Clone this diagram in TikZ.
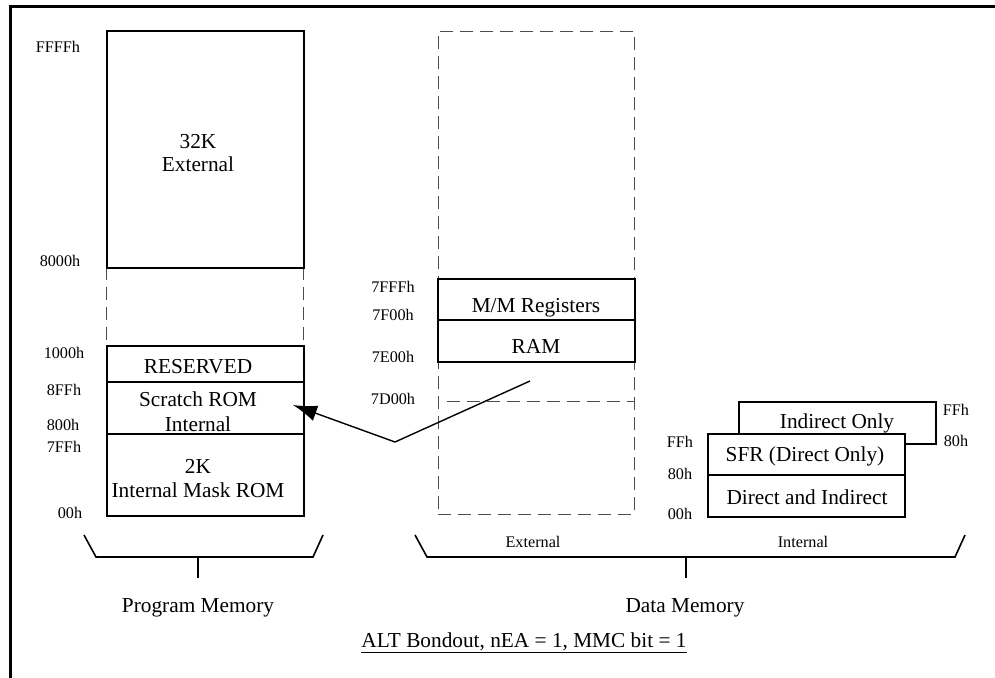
\documentclass[tikz,border=0pt]{standalone}
\usepackage{fontspec}
\setmainfont{Liberation Serif}
\usetikzlibrary{arrows.meta}
\begin{document}
\begin{tikzpicture}[x=1pt,y=-1pt,
 box/.style={draw, line width=1.6pt, inner sep=0pt, anchor=north west},
 wbox/.style={box, fill=white},
 dbox/.style={draw=black!70, line width=0.9pt, dash pattern=on 13pt off 7pt, inner sep=0pt, anchor=north west},
 dsh/.style={draw=black!70, line width=0.9pt, dash pattern=on 13pt off 7pt},
 big/.style={inner sep=0pt, text height=1.04em, text depth=0pt, font=\fontsize{21.3}{24}\selectfont},
 small/.style={inner sep=0pt, text height=1.04em, text depth=0pt, font=\fontsize{16.2}{18}\selectfont},
 brk/.style={line width=1.6pt},
 frame/.style={line width=3pt}]
\useasboundingbox (0,0) rectangle (995,677);
% outer frame
\coordinate (fb) at (10,690);
\coordinate (ftl) at (10,7);
\coordinate (fr) at (1000,7);
\draw[frame] (fb) -- (ftl) -- (fr);

% ---------------- Program memory ----------------
\draw[dsh] (106,267) -- (106,345);
\draw[dsh] (303,267) -- (303,345);
\node[box, minimum width=197pt, minimum height=237pt] (pext) at (106,30) {};
\node[box, minimum width=197pt, minimum height=36pt] (pres) at (106,345) {};
\node[box, minimum width=197pt, minimum height=52pt] (pscr) at (106,381) {};
\node[box, minimum width=197pt, minimum height=82pt] (pmask) at (106,433) {};

\node[big] (t32k) at (198,143) {32K};
\node[big] (text) at (198,166) {External};
\node[big] (tres) at (198,368) {RESERVED};
\node[big] (tscr) at (198,401) {Scratch ROM};
\node[big] (tint) at (198,426) {Internal};
\node[big] (t2k) at (198,468) {2K};
\node[big] (tmask) at (198,492) {Internal Mask ROM};

\node[small] (aFFFF) at (58,47) {FFFFh};
\node[small] (a8000) at (60,261) {8000h};
\node[small] (a1000) at (64,353) {1000h};
\node[small] (a8FF) at (64,390) {8FFh};
\node[small] (a800) at (63,425) {800h};
\node[small] (a7FF) at (64,447) {7FFh};
\node[small] (a00) at (70,513) {00h};

% program bracket
\coordinate (pb1) at (84,535);
\coordinate (pb2) at (96,557);
\coordinate (pb3) at (313,557);
\coordinate (pb4) at (323,535);
\coordinate (pbs) at (198,557);
\coordinate (pbe) at (198,578);
\draw[brk] (pb1) -- (pb2) -- (pb3) -- (pb4);
\draw[brk] (pbs) -- (pbe);
\node[big] (progmem) at (198,607) {Program Memory};

% ---------------- Data memory ----------------
\node[dbox, minimum width=196pt, minimum height=483pt] (dext) at (438,31) {};
\node[box, minimum width=197pt, minimum height=41pt] (dmm) at (437,278) {};
\node[box, minimum width=197pt, minimum height=42pt] (dram) at (437,319) {};
\coordinate (d7d0) at (447,401);
\coordinate (d7d1) at (634,401);
\draw[dsh] (d7d0) -- (d7d1);

\node[big] (tmm) at (536,307) {M/M Registers};
\node[big] (tram) at (536,348) {RAM};

\node[small] (a7FFF) at (393,287) {7FFFh};
\node[small] (a7F00) at (393,315) {7F00h};
\node[small] (a7E00) at (393,357) {7E00h};
\node[small] (a7D00) at (393,399) {7D00h};

% internal data memory
\node[box, minimum width=197pt, minimum height=42pt] (dind) at (738,401) {};
\node[big] (tind) at (837,423) {Indirect Only};
\node[wbox, minimum width=197pt, minimum height=41pt] (dsfr) at (707,433) {};
\node[wbox, minimum width=197pt, minimum height=42pt] (ddi) at (707,474) {};
\node[big] (tsfr) at (805,456) {SFR (Direct Only)};
\node[big] (tdi) at (807,499) {Direct and Indirect};

\node[small] (iFFl) at (680,442) {FFh};
\node[small] (i80l) at (680,474) {80h};
\node[small] (i00l) at (680,514) {00h};
\node[small] (iFFr) at (956,410) {FFh};
\node[small] (i80r) at (956,441) {80h};

% data bracket
\coordinate (db1) at (415,535);
\coordinate (db2) at (427,557);
\coordinate (db3) at (955,557);
\coordinate (db4) at (965,535);
\coordinate (dbs) at (686,557);
\coordinate (dbe) at (686,578);
\draw[brk] (db1) -- (db2) -- (db3) -- (db4);
\draw[brk] (dbs) -- (dbe);
\node[small] (lext) at (533,542) {External};
\node[small] (lint) at (803,542) {Internal};
\node[big] (datamem) at (685,607) {Data Memory};

\node[big] (alt) at (524,642) {\underline{ALT Bondout, nEA = 1, MMC bit = 1}};

% arrow
\coordinate (aS) at (530,381);
\coordinate (aV) at (395,442);
\coordinate (aT) at (293,405);
\draw[line width=1.4pt, -{Latex[length=24pt,width=16pt]}] (aS) -- (aV) -- (aT);
\end{tikzpicture}
\end{document}
